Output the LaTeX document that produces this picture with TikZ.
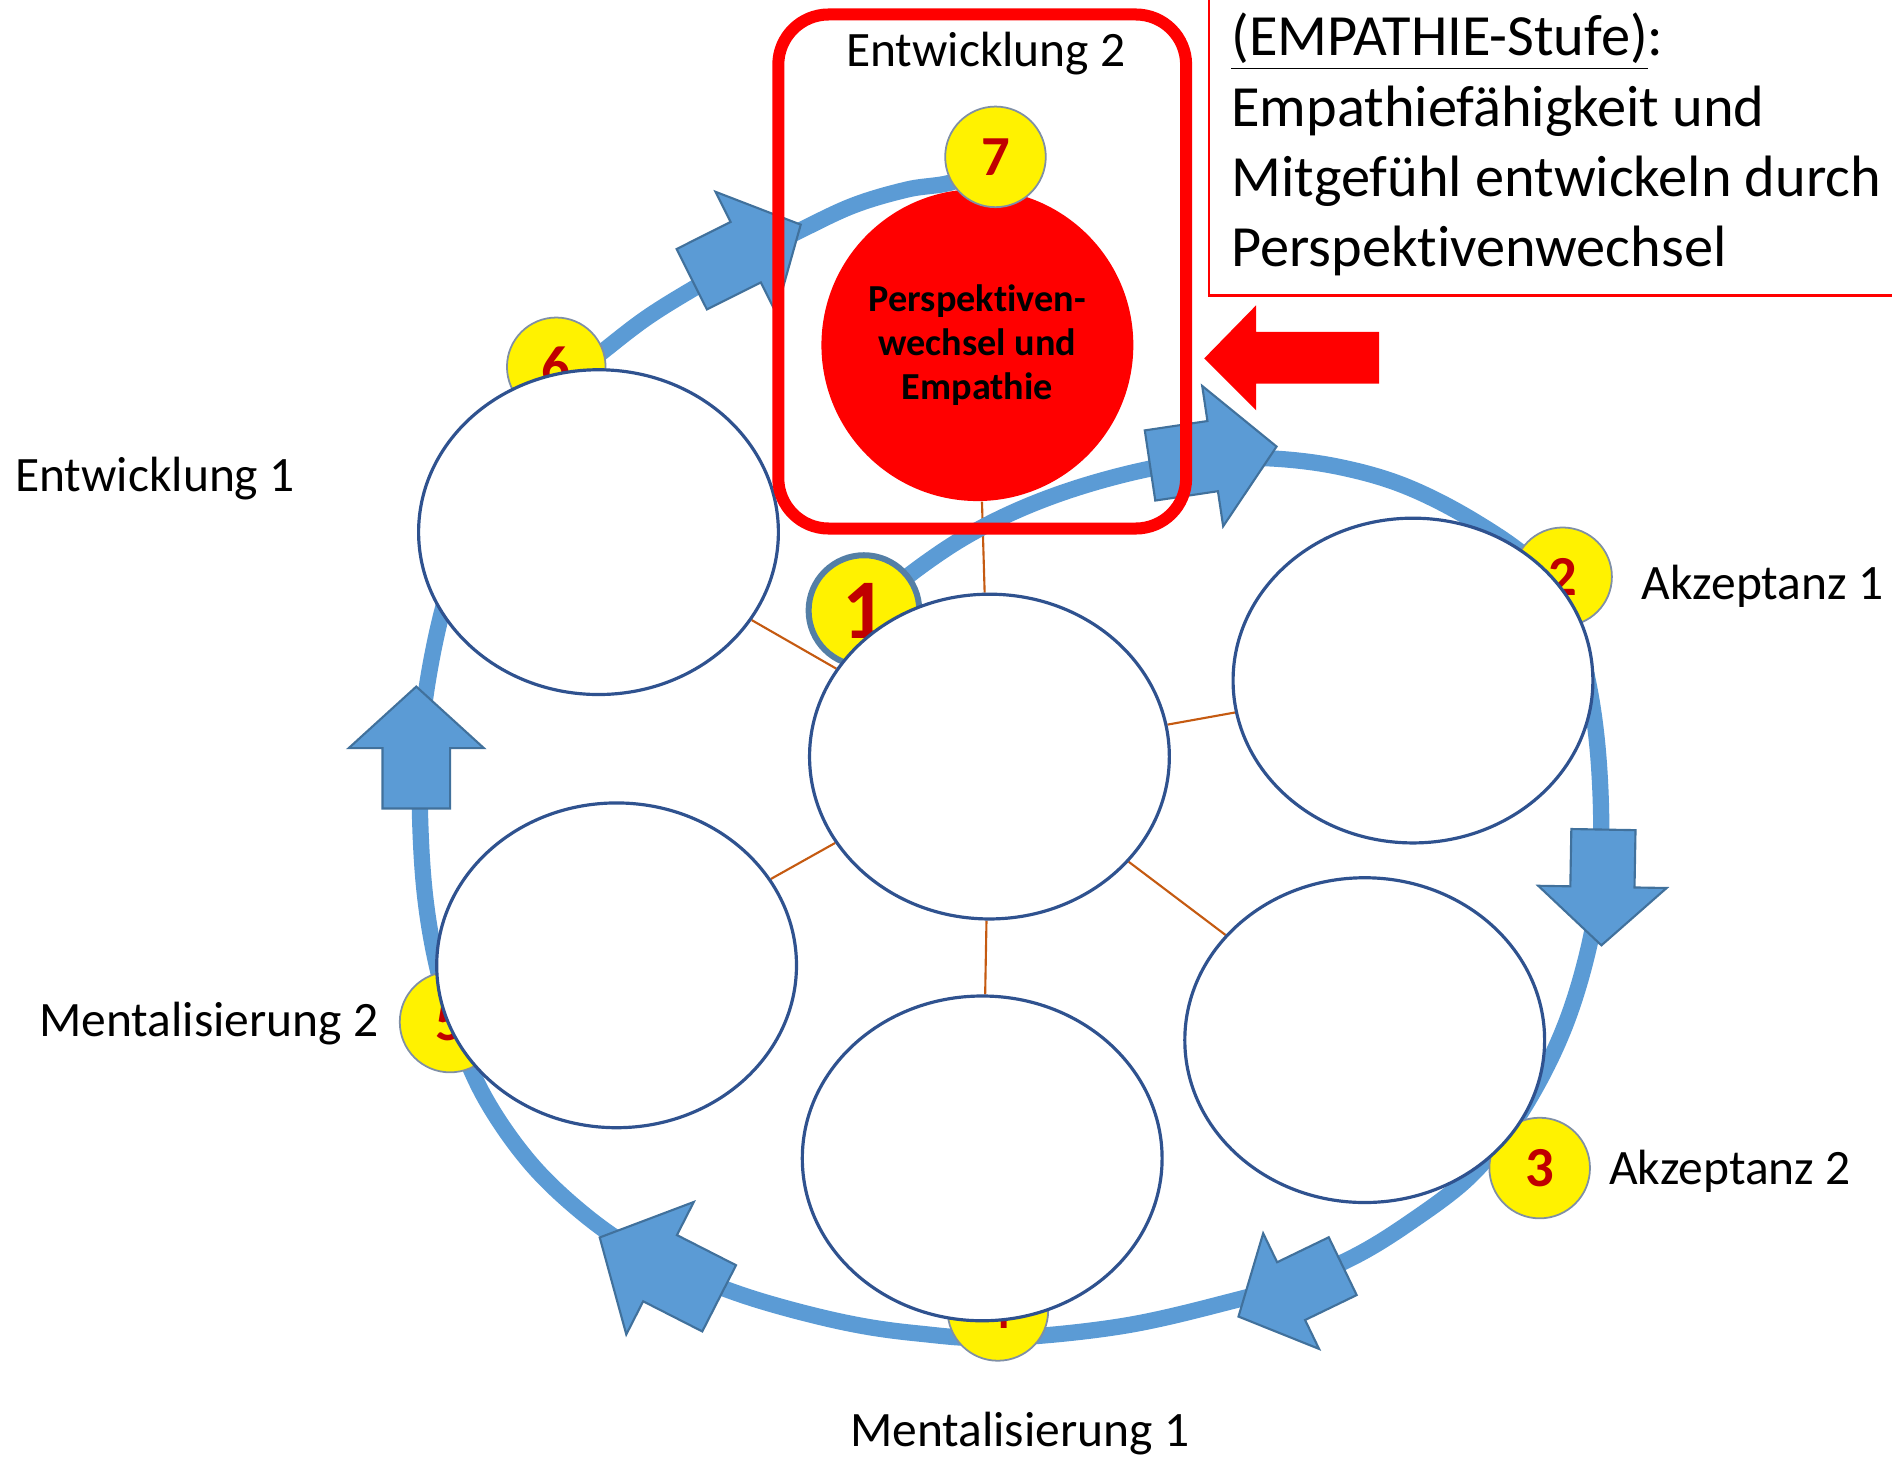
\documentclass[tikz,border=0pt]{standalone}
\usepackage{fontspec}
\setmainfont{Carlito}[RawFeature=-liga]
\usepackage{xcolor}
\usepackage{tikz}
\usetikzlibrary{shapes.geometric}

\definecolor{arcblue}{HTML}{5B9BD5}
\definecolor{arcedge}{HTML}{41719C}
\definecolor{ringblue}{HTML}{2F528F}
\definecolor{numred}{HTML}{C00000}
\definecolor{linkbrown}{HTML}{C55A11}
\definecolor{badgeedge}{HTML}{7F8FA6}

\pgfdeclarelayer{links}
\pgfdeclarelayer{arcs}
\pgfsetlayers{links,arcs,main}

\tikzset{
  stage/.style={ellipse,draw=ringblue,line width=0.9pt,fill=white,
    minimum width=3.576cm,minimum height=3.228cm,inner sep=0pt},
  badge/.style={circle,draw=badgeedge,line width=0.5pt,fill=yellow,text=numred,
    font=\fontsize{16}{16}\selectfont\bfseries,minimum size=1.0cm,inner sep=0pt},
  link/.style={linkbrown,line width=0.6pt},
  blockarr/.style={fill=arcblue,draw=arcedge,line width=0.6pt,line join=miter},
  lab/.style={font=\fontsize{14}{16}\selectfont,anchor=base west,inner sep=0pt},
  desc/.style={font=\fontsize{16.5}{20}\selectfont,anchor=base west,inner sep=0pt},
}

% block arrow: head base centre, angle, scale
\newcommand{\blockarrow}[3]{%
  \filldraw[blockarr,shift={#1},rotate=#2,scale=#3]
    (-50,-28) -- (0,-28) -- (0,-56) -- (51,0) -- (0,56) -- (0,28) -- (-50,28) -- cycle;}

\begin{document}
\begin{tikzpicture}[x=0.012cm,y=-0.012cm]
\useasboundingbox (0,0) rectangle (1568,1207);

% number badges
\node[badge,minimum size=1.1cm,draw=arcedge!90!white,line width=1.7pt,
  font=\fontsize{24}{24}\selectfont\bfseries] (b1) at (716,506) {1};
\node[badge,minimum size=0.98cm] (b2) at (1295,478) {2};
\node[badge] (b3) at (1276,968) {3};
\node[badge] (b4) at (827,1086) {4};
\node[badge] (b5) at (373,847) {5};
\node[badge,minimum size=0.98cm] (b6) at (461,304) {6};

% stages
\node[stage] (mid) at (820,627) {};
\node[stage] (entw) at (496,441) {};
\node[stage] (akz1) at (1171,564) {};
\node[stage] (ment2) at (511,800) {};
\node[stage] (akz2) at (1131,862) {};
\node[stage] (ment1) at (814,960) {};

% empathy stage
\node[circle,fill=red,minimum size=3.1cm,inner sep=0pt,align=center,
  font=\fontsize{10.8}{12.4}\selectfont\bfseries] (empathie) at (810,286)
  {Perspektiven-\\wechsel und\\Empathie};
\node[badge] (b7) at (825,130) {7};

\begin{pgfonlayer}{links}
\foreach \s in {entw,akz1,ment2,akz2,ment1,empathie}
  \draw[link] (mid) -- (\s);
\end{pgfonlayer}

\begin{pgfonlayer}{arcs}
\draw[arcblue,line width=4.6pt] plot[smooth,tension=0.6] coordinates {
  (b1.center) (765,468) (805,442) (850,420) (900,402) (955,388) (1005,381)
  (1055,380) (1110,387) (1165,403) (1222,432) (1272,468) (1300,510)
  (1315,560) (1324,620) (1327,690) (1323,750) (1313,800) (1297,850)
  (1275,897) (1248,940) (1215,978) (1170,1012) (1125,1040) (1075,1062)
  (1022,1078) (930,1099) (829,1109) (760,1105) (700,1096) (630,1078)
  (575,1058) (525,1035) (480,1003) (438,962) (402,910) (378,855)
  (362,800) (352,740) (348,672) (349,610) (357,550) (371,490) (392,430)
  (420,372) (452,328) (491,298) (535,264) (580,236) (622,212) (665,190)
  (708,170) (752,157) (792,150) (b7.center)};
\blockarrow{(1005,378)}{8.5}{1.05}
\blockarrow{(1328,735)}{-91}{0.95}
\blockarrow{(1070,1070)}{205.8}{0.95}
\blockarrow{(547,1051)}{153}{1.1}
\blockarrow{(345,620)}{90}{1}
\blockarrow{(618,209)}{26.6}{1}
\end{pgfonlayer}

% focus frame and pointer
\draw[red,line width=3.4pt,rounded corners=0.5cm] (645,12) rectangle (983,438);
\fill[red] (998,297) -- (1041,253) -- (1041,275) -- (1143,275)
  -- (1143,318) -- (1041,318) -- (1041,340) -- cycle;

% description box
\draw[red,line width=0.7pt] (1002,-10) -- (1002,245) -- (1590,245);
\node[desc] (d1) at (1020,46) {\underline{(EMPATHIE-Stufe)}:};
\node[desc] (d2) at (1020,105) {Empathiefähigkeit und};
\node[desc] (d3) at (1020,163) {Mitgefühl entwickeln durch};
\node[desc] (d4) at (1020,221) {Perspektivenwechsel};

% stage labels
\node[lab,anchor=base] (e2lab) at (817,55) {Entwicklung 2};
\node[lab] (e1lab) at (12,407) {Entwicklung 1};
\node[lab] (a1lab) at (1360,497) {Akzeptanz 1};
\node[lab] (a2lab) at (1333,982) {Akzeptanz 2};
\node[lab] (m2lab) at (32,859) {Mentalisierung 2};
\node[lab,anchor=base] (m1lab) at (845,1199) {Mentalisierung 1};
\end{tikzpicture}
\end{document}
